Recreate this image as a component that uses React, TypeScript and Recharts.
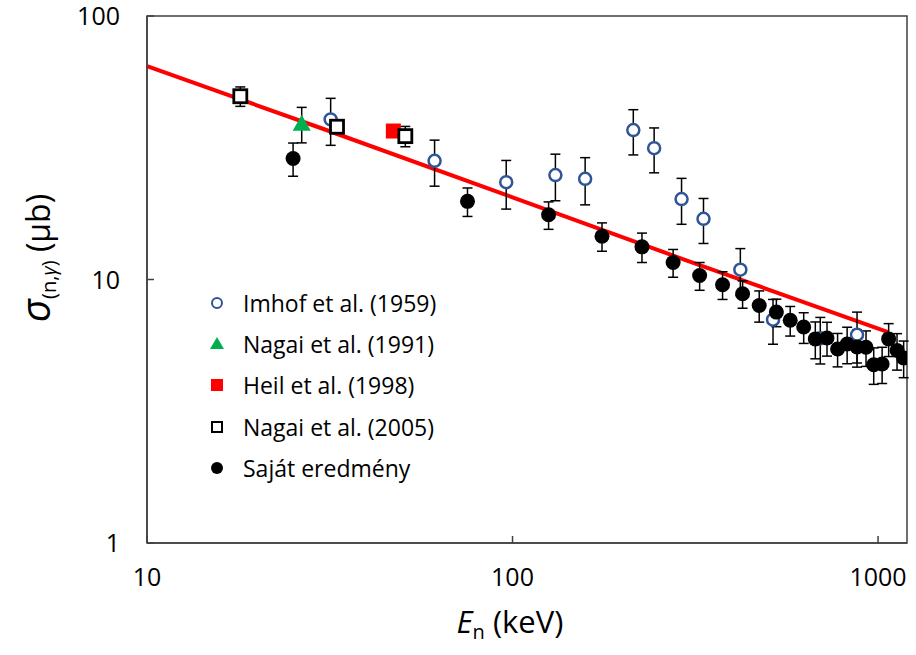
import React from "react"
import {
  ComposedChart,
  Line,
  Scatter,
  ErrorBar,
  XAxis,
  YAxis,
  ReferenceArea,
  Legend,
} from "recharts"

// neutron energy (keV), cross section (µb), error (µb)
const imhofE = [31.8, 61.2, 96.1, 131, 158, 214, 244, 290, 333, 420, 516, 695, 876]
const imhofS = [40.5, 28.2, 23.4, 24.9, 24.1, 36.9, 31.5, 20.2, 17.0, 10.9, 7.04, 5.98, 6.17]
const imhofErr = [8.2, 5.6, 4.9, 5.0, 4.9, 7.2, 6.1, 4.0, 3.3, 2.2, 1.36, 1.2, 1.35]

const nagai91E = [26.5]
const nagai91S = [39]
const nagai91Err = [6.0]

const heilE = [47.2]
const heilS = [36.6]

const nagai05E = [18.0, 33.1, 50.9]
const nagai05S = [49.6, 38.0, 35.0]
const nagai05Err = [4.2, 1.8, 3.1]

const sajatE = [
  25.1, 75.3, 125.5, 175.7, 226, 275, 325, 375.5, 426, 473, 527, 575, 626, 673.5, 725, 775, 823,
  876, 927, 973, 1026, 1069, 1127, 1175,
]
const sajatS = [
  28.8, 19.8, 17.6, 14.6, 13.3, 11.6, 10.35, 9.55, 8.83, 7.97, 7.52, 7.0, 6.6, 5.95, 6.0, 5.45,
  5.69, 5.55, 5.53, 4.75, 4.78, 5.95, 5.38, 5.04,
]
const sajatErr = [
  4.15, 2.45, 2.1, 1.8, 1.7, 1.4, 1.25, 1.15, 1.05, 1.08, 0.9, 0.9, 0.88, 0.95, 0.88, 0.79, 0.9,
  0.9, 0.85, 0.75, 0.75, 0.85, 0.85, 0.8,
]

// calculated curve
const curveE = [10, 30, 100, 300, 1070]
const curveS = [64.5, 37.5, 20.5, 11.8, 6.3]

const xTicks = [10, 100, 1000]
const yTicks = [1, 10, 100]

const legendNames = [
  "Imhof et al. (1959)",
  "Nagai et al. (1991)",
  "Heil et al. (1998)",
  "Nagai et al. (2005)",
  "Saját eredmény",
]

const toRows = (xs: number[], ys: number[], errs?: number[]) =>
  xs.map((x, i) => ({ x, y: ys[i], err: errs ? errs[i] : 0 }))

const FONT = "'Open Sans', sans-serif"
const AXIS = "#404040"
const BLUE = "#2f5597"
const GREEN = "#00b050"
const RED = "#ff0000"

const OpenCircle = ({ cx, cy }: any) => (
  <circle cx={cx} cy={cy} r={6} fill="#fff" stroke={BLUE} strokeWidth={2.5} />
)
const Triangle = ({ cx, cy }: any) => (
  <polygon points={`${cx - 9},${cy + 7} ${cx + 9},${cy + 7} ${cx},${cy - 9}`} fill={GREEN} />
)
const RedSquare = ({ cx, cy }: any) => (
  <rect x={cx - 7.5} y={cy - 7.5} width={15} height={15} fill={RED} />
)
const OpenSquare = ({ cx, cy }: any) => (
  <rect x={cx - 6.5} y={cy - 6.5} width={13} height={13} fill="#fff" stroke="#000" strokeWidth={2.8} />
)
const Dot = ({ cx, cy }: any) => <circle cx={cx} cy={cy} r={7.5} fill="#000" />

const legendMarks = [
  <circle cx={12} cy={12} r={5} fill="#fff" stroke={BLUE} strokeWidth={2} />,
  <polygon points="5,17 19,17 12,5" fill={GREEN} />,
  <rect x={6} y={6} width={12} height={12} fill={RED} />,
  <rect x={7} y={7} width={10} height={10} fill="#fff" stroke="#000" strokeWidth={2} />,
  <circle cx={12} cy={12} r={6} fill="#000" />,
]

function LegendBox() {
  return (
    <div style={{ fontFamily: FONT, fontSize: 23, color: "#000" }}>
      {legendNames.map((name, i) => (
        <div key={name} style={{ display: "flex", alignItems: "center", height: 41.3 }}>
          <svg width={24} height={24} style={{ marginRight: 14 }}>
            {legendMarks[i]}
          </svg>
          <span style={{ whiteSpace: "nowrap" }}>{name}</span>
        </div>
      ))}
    </div>
  )
}

function XTick({ x, y, payload }: any) {
  return (
    <g>
      <line x1={x} y1={y} x2={x} y2={y - 7} stroke={AXIS} strokeWidth={1.5} />
      <text x={x} y={y + 43} textAnchor="middle" fontSize={25} fontFamily={FONT} fill="#000">
        {payload.value}
      </text>
    </g>
  )
}

function YTick({ x, y, payload }: any) {
  return (
    <g>
      <line x1={x} y1={y} x2={x + 7} y2={y} stroke={AXIS} strokeWidth={1.5} />
      <text x={x - 27} y={y + 9} textAnchor="end" fontSize={25} fontFamily={FONT} fill="#000">
        {payload.value}
      </text>
    </g>
  )
}

const XTitle = () => (
  <text x={510} y={633} textAnchor="middle" fontSize={31} fontFamily={FONT} fill="#000">
    <tspan fontStyle="italic">E</tspan>
    <tspan fontSize={20} dy={6}>n</tspan>
    <tspan dy={-6}> (keV)</tspan>
  </text>
)

const YTitle = () => (
  <text
    x={-258}
    y={50}
    transform="rotate(-90)"
    textAnchor="middle"
    fontSize={32}
    fontFamily={FONT}
    fill="#000"
  >
    <tspan fontStyle="italic" fontSize={40}>σ</tspan>
    <tspan fontSize={20} dy={6}>(n,</tspan>
    <tspan fontSize={20} fontStyle="italic">γ</tspan>
    <tspan fontSize={20}>)</tspan>
    <tspan dy={-6}> (μb)</tspan>
  </text>
)

export default function App() {
  return (
    <div style={{ position: "absolute", left: 0, top: 0, width: 916, height: 655, background: "#fff" }}>
      <ComposedChart width={916} height={655} margin={{ top: 16, right: 9, bottom: 0, left: 0 }}>
        <XAxis
          type="number"
          dataKey="x"
          scale="log"
          domain={[10, 1200]}
          allowDataOverflow
          ticks={xTicks}
          interval={0}
          height={112}
          tickSize={0}
          tickMargin={0}
          tick={<XTick />}
          axisLine={{ stroke: AXIS, strokeWidth: 1.5 }}
          label={{ content: XTitle }}
        />
        <YAxis
          type="number"
          dataKey="y"
          scale="log"
          domain={[1, 100]}
          allowDataOverflow
          ticks={yTicks}
          interval={0}
          width={147}
          tickSize={0}
          tickMargin={0}
          tick={<YTick />}
          axisLine={{ stroke: AXIS, strokeWidth: 1.5 }}
          label={{ content: YTitle }}
        />
        <ReferenceArea x1={10} x2={1200} y1={1} y2={100} fill="none" stroke={AXIS} strokeWidth={1.5} />
        <Line
          data={toRows(curveE, curveS)}
          dataKey="y"
          type="linear"
          stroke={RED}
          strokeWidth={4}
          dot={false}
          activeDot={false}
          isAnimationActive={false}
        />
        <Scatter data={toRows(imhofE, imhofS, imhofErr)} shape={<OpenCircle />} isAnimationActive={false}>
          <ErrorBar dataKey="err" direction="y" width={5} stroke="#000" strokeWidth={1.5} />
        </Scatter>
        <Scatter data={toRows(nagai91E, nagai91S, nagai91Err)} shape={<Triangle />} isAnimationActive={false}>
          <ErrorBar dataKey="err" direction="y" width={5} stroke="#000" strokeWidth={1.5} />
        </Scatter>
        <Scatter data={toRows(heilE, heilS)} shape={<RedSquare />} isAnimationActive={false} />
        <Scatter data={toRows(nagai05E, nagai05S, nagai05Err)} shape={<OpenSquare />} isAnimationActive={false}>
          <ErrorBar dataKey="err" direction="y" width={5} stroke="#000" strokeWidth={1.5} />
        </Scatter>
        <Scatter data={toRows(sajatE, sajatS, sajatErr)} shape={<Dot />} isAnimationActive={false}>
          <ErrorBar dataKey="err" direction="y" width={5} stroke="#000" strokeWidth={1.5} />
        </Scatter>
        <Legend
          layout="vertical"
          align="center"
          verticalAlign="middle"
          content={<LegendBox />}
          wrapperStyle={{ position: "absolute", left: 205, top: 282, width: "auto" }}
        />
      </ComposedChart>
    </div>
  )
}
